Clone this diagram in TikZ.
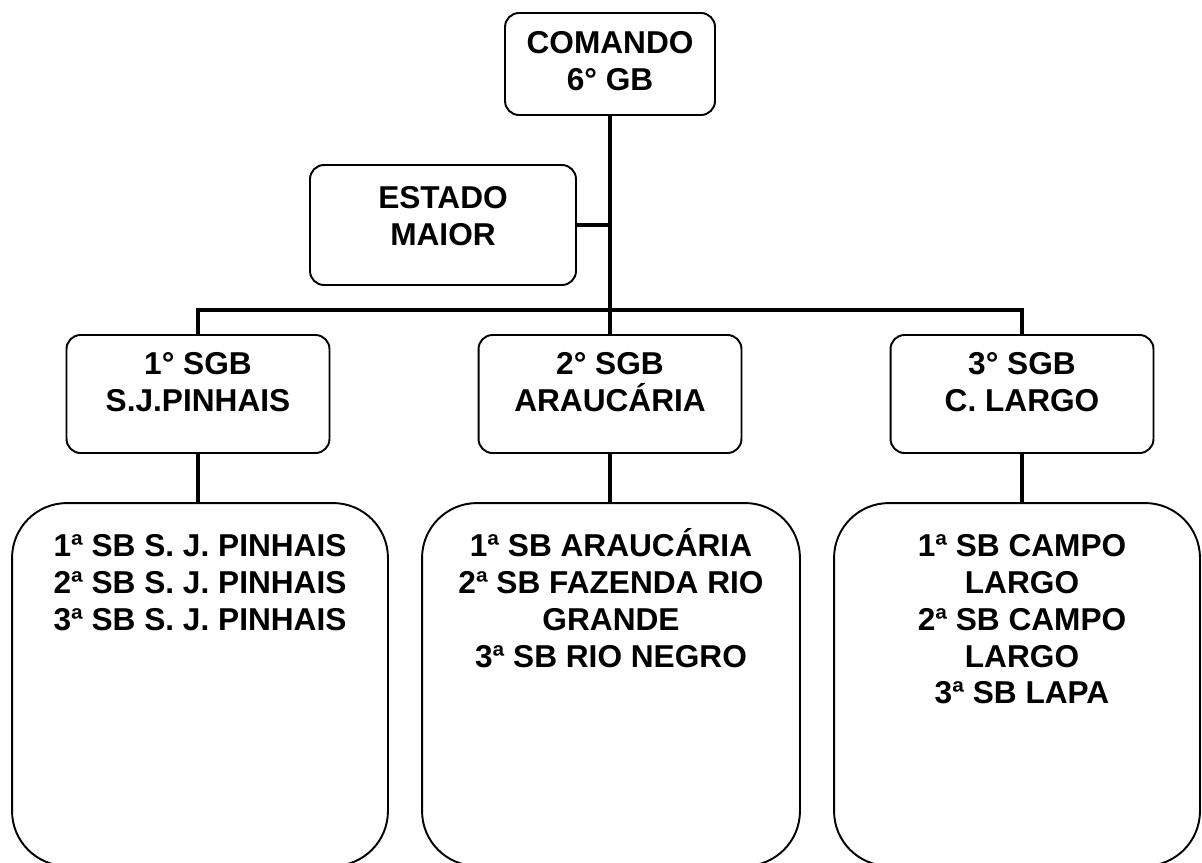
\documentclass[tikz,border=0pt]{standalone}
\usepackage{fontspec}
\setmainfont{Liberation Sans}

\tikzset{
    box/.style={draw, line width=1.1pt, rounded corners=0.28cm},
    sbbox/.style={draw, line width=1.1pt, rounded corners=1.1cm, minimum height=7.26cm},
    lbl/.style={font=\fontsize{18}{21}\selectfont\bfseries, align=center, inner sep=0pt},
    conn/.style={line width=2.8pt}
}

\begin{document}
\begin{tikzpicture}[x=0.02cm, y=-0.02cm]
\useasboundingbox (0,0) rectangle (1202,862);
% top of the chart
\node[box, minimum width=4.2cm, minimum height=2.04cm] (cmd) at (610,64) {};
\node[lbl] (cmdtxt) at (610,61) {COMANDO\\6° GB};
\node[box, minimum width=5.32cm, minimum height=2.4cm] (em) at (443,225) {};
\node[lbl] (emtxt) at (443,216) {ESTADO\\MAIOR};
% sub-groups
\foreach \x/\n/\t in {198/1/{1° SGB\\S.J.PINHAIS}, 610/2/{2° SGB\\ARAUCÁRIA}, 1022/3/{3° SGB\\C. LARGO}} {
    \node[box, minimum width=5.26cm, minimum height=2.36cm] (sgb\n) at (\x,394) {};
    \node[lbl] (sgb\n txt) at (\x,382) {\t};
}
% stations
\node[sbbox, minimum width=7.52cm] (sb1) at (200,684.5) {};
\node[sbbox, minimum width=7.56cm] (sb2) at (611,684.5) {};
\node[sbbox, minimum width=7.32cm] (sb3) at (1017,684.5) {};
\node[lbl, anchor=north] (sb1txt) at (200,528) {\vphantom{Á}1ª SB S. J. PINHAIS\\2ª SB S. J. PINHAIS\\3ª SB S. J. PINHAIS};
\node[lbl, anchor=north] (sb2txt) at (611,528) {\vphantom{Á}1ª SB ARAUCÁRIA\\2ª SB FAZENDA RIO\\GRANDE\\3ª SB RIO NEGRO};
\node[lbl, anchor=north] (sb3txt) at (1022,528) {\vphantom{Á}1ª SB CAMPO\\LARGO\\2ª SB CAMPO\\LARGO\\3ª SB LAPA};
% connectors
\coordinate (bus) at (610,310);
\draw[conn] (cmd) -- (sgb2);
\draw[conn] (em) -- (em -| cmd);
\draw[conn] (sgb1.north) |- (bus) -| (sgb3.north);
\foreach \n in {1,2,3} {
    \draw[conn] (sgb\n.south) -- (sgb\n.south |- sb\n.north);
}
\end{tikzpicture}
\end{document}
